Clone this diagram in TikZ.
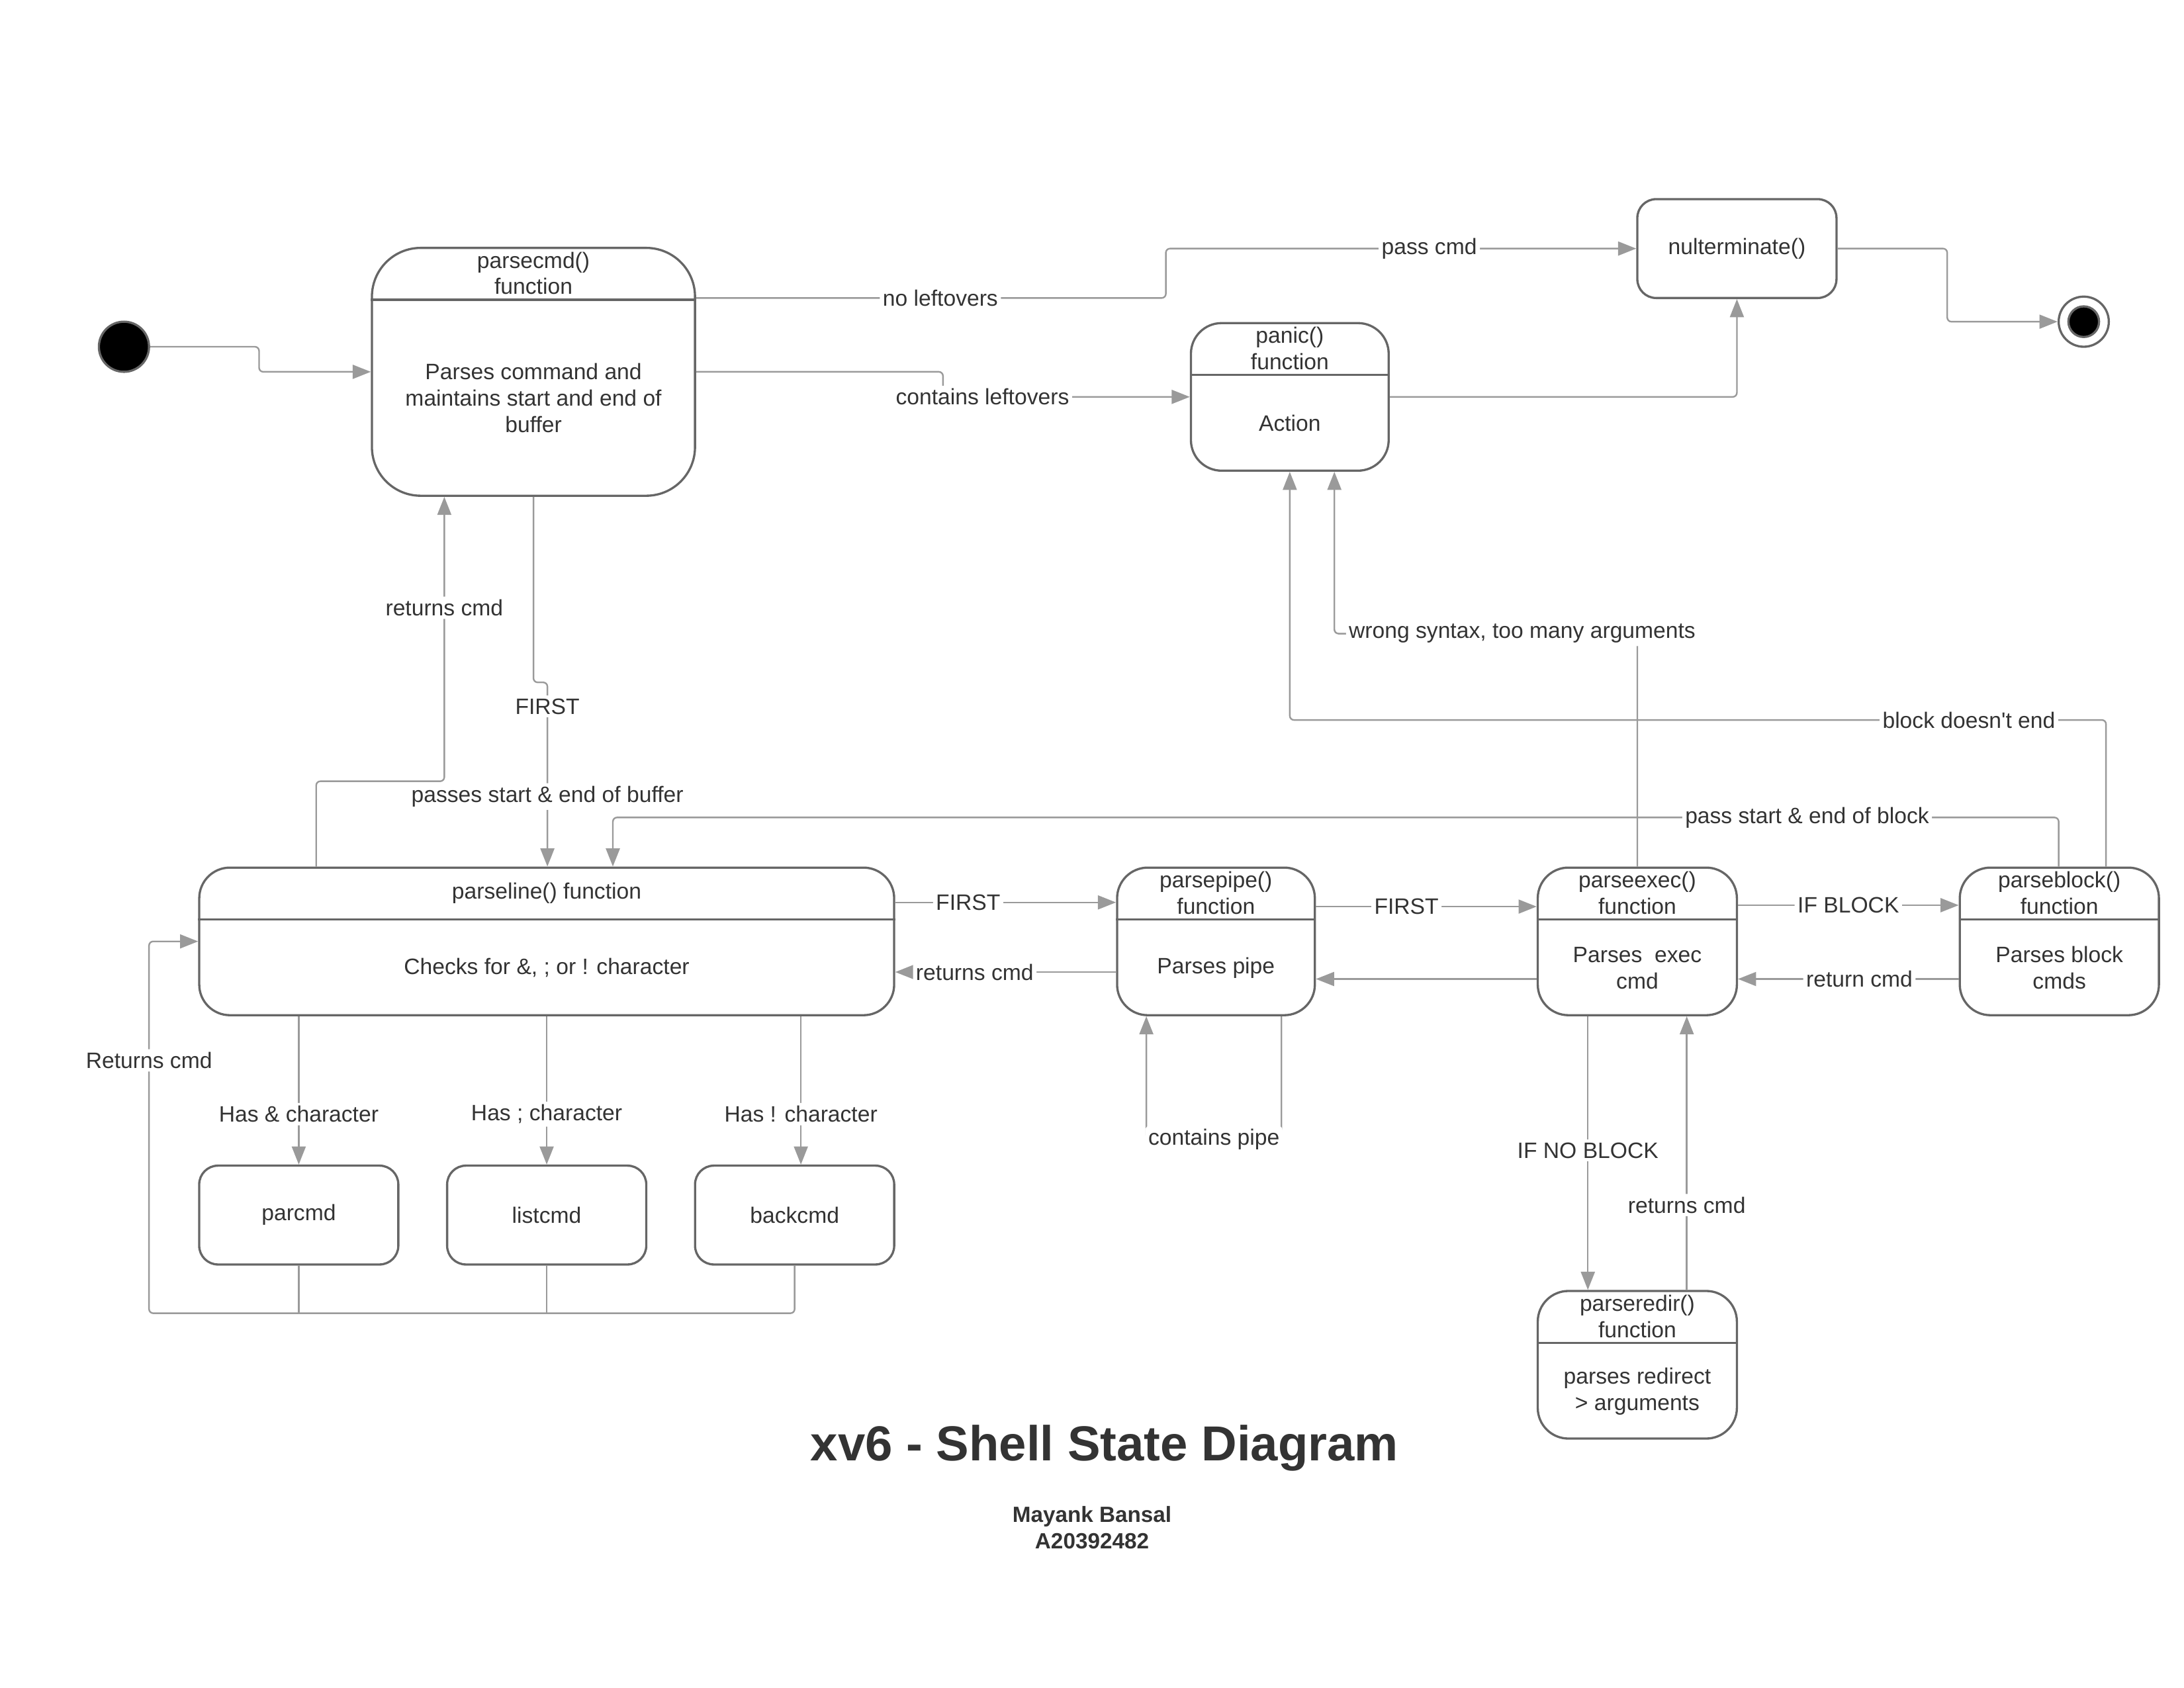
\documentclass[tikz,border=0pt]{standalone}
\usepackage{fontspec}
\setmainfont{Liberation Sans}
\usetikzlibrary{arrows.meta}
\definecolor{bordergray}{HTML}{666666}
\definecolor{linegray}{HTML}{9A9A9A}
\definecolor{txtgray}{HTML}{333333}
\tikzset{
  lblfont/.style={font=\fontsize{9.1}{10.8}\selectfont, text=txtgray},
  fnbox/.style={draw=bordergray, line width=0.9pt, rounded corners=0.44cm, fill=white, inner sep=0pt},
  smallbox/.style={fnbox, rounded corners=0.27cm, minimum width=2.86cm, minimum height=1.42cm, lblfont},
  fntext/.style={lblfont, align=center, inner sep=0pt},
  divider/.style={draw=bordergray, line width=0.9pt},
  flow/.style={draw=linegray, line width=0.65pt, rounded corners=0.06cm, -{Triangle[length=0.26cm,width=0.2cm]}},
  link/.style={draw=linegray, line width=0.65pt, rounded corners=0.06cm},
  lbl/.style={lblfont, fill=white, inner sep=1.2pt},
  initdot/.style={circle, fill=black, draw=bordergray, line width=0.9pt, minimum size=0.72cm, inner sep=0pt},
  finalring/.style={circle, fill=white, draw=bordergray, line width=0.9pt, minimum size=0.72cm, inner sep=0pt},
  finaldot/.style={circle, fill=black, draw=bordergray, line width=0.9pt, minimum size=0.44cm, inner sep=0pt},
}
% state with a name part on top and a body part below
\newcommand{\fnstate}[7][]{%
  \node[fnbox, minimum width=#4, minimum height=#5, #1] (#2) at #3 {};
  \draw[divider] ([yshift=-0.76cm]#2.north west) -- ([yshift=-0.76cm]#2.north east);
  \node[fntext] (#2-t) at ([yshift=-0.38cm]#2.north) {#6};
  \node[fntext] (#2-b) at ([yshift=-0.38cm]#2.center) {#7};
}
\begin{document}
\begin{tikzpicture}[x=0.02cm,y=-0.02cm]
	\useasboundingbox (0,0) rectangle (1568,1212);
	% states
	\node[initdot] (init) at (89,249) {};
	\fnstate[rounded corners=0.7cm]{parsecmd}{(383,267)}{4.64cm}{3.56cm}{parsecmd()\\function}{Parses command and\\maintains start and end of\\buffer}
	\node[smallbox] (nul) at (1247,178.5) {nulterminate()};
	\fnstate{panic}{(926,285)}{2.84cm}{2.12cm}{panic()\\function}{Action}
	\node[finalring] (final) at (1496,231) {};
	\node[finaldot] (final-in) at (final) {};
	\fnstate{parseline}{(392.5,676)}{9.98cm}{2.12cm}{parseline() function}{Checks for \&, ; or ! character}
	\fnstate{parsepipe}{(873,676)}{2.84cm}{2.12cm}{parsepipe()\\function}{Parses pipe}
	\fnstate{parseexec}{(1175.5,676)}{2.86cm}{2.12cm}{parseexec()\\function}{Parses\ \ exec\\cmd}
	\fnstate{parseblock}{(1478.5,676)}{2.86cm}{2.12cm}{parseblock()\\function}{Parses block\\cmds}
	\fnstate{parseredir}{(1175.5,980)}{2.86cm}{2.12cm}{parseredir()\\function}{parses redirect\\> arguments}
	\node[smallbox] (parcmd) at (214.5,872.5) {parcmd};
	\node[smallbox] (listcmd) at (392.5,872.5) {listcmd};
	\node[smallbox] (backcmd) at (570.5,872.5) {backcmd};
	% title
	\node[font=\bfseries\fontsize{20.1}{24}\selectfont, text=txtgray] (title) at (793,1040) {xv6 - Shell State Diagram};
	\node[font=\bfseries\fontsize{9}{10.8}\selectfont, text=txtgray, align=center] (author) at (784,1097) {Mayank Bansal\\A20392482};
	% transitions at the top
	\draw[flow] (init.east) -- (186,249) |- (parsecmd.west);
	\draw[flow] (parsecmd.east |- 0,214) -- node[lbl,pos=0.52]{no leftovers} (837,214) |- node[lbl,pos=0.78]{pass cmd} (nul.west);
	\draw[flow] (parsecmd.east) -- (677,267) |- node[lbl,pos=0.58]{contains leftovers} (panic.west);
	\draw[flow] (panic.east) -| (nul.south);
	\draw[flow] (nul.east) -- (1398,178.5) |- (final.west);
	% between parsecmd and parseline
	\draw[flow] (parsecmd.south) -- (383,490) -- (393,490) -- node[lbl,pos=0.13]{FIRST} node[lbl,pos=0.62]{passes start \& end of buffer} (parseline.north -| 393,0);
	\draw[flow] (parseline.north -| 227,0) |- (319,561) -- node[lbl,pos=0.61]{returns cmd} (parsecmd.south -| 319,0);
	% back to parseline and panic
	\draw[flow] (parseblock.north -| 1478,0) |- node[lbl,pos=0.587]{pass start \& end of block} (440,587) -- (parseline.north -| 440,0);
	\draw[flow] (parseblock.north -| 1512,0) |- node[lbl,pos=0.584]{block doesn\textquotesingle t end} (panic.south |- 0,517) -- (panic.south);
	\draw[flow] (parseexec.north) |- node[lbl,pos=0.69]{wrong syntax, too many arguments} (958,455) -- (panic.south -| 958,0);
	% the middle row
	\draw[flow] (parseline.east |- 0,648) -- node[lbl,pos=0.33]{FIRST} (parsepipe.west |- 0,648);
	\draw[flow] (parsepipe.west |- 0,698) -- node[lbl,pos=0.64]{returns cmd} (parseline.east |- 0,698);
	\draw[flow] (parsepipe.east |- 0,651) -- node[lbl,pos=0.41]{FIRST} (parseexec.west |- 0,651);
	\draw[flow] (parseexec.west |- 0,703) -- (parsepipe.east |- 0,703);
	\draw[flow] (parseexec.east |- 0,650) -- node[lbl,pos=0.5]{IF BLOCK} (parseblock.west |- 0,650);
	\draw[flow] (parseblock.west |- 0,703) -- node[lbl,pos=0.45]{return cmd} (parseexec.east |- 0,703);
	\draw[flow] (parsepipe.south -| 920,0) |- node[lbl,pos=0.75]{contains pipe} (823,818) -- (parsepipe.south -| 823,0);
	\draw[flow] (parseexec.south -| 1140,0) -- node[lbl,pos=0.49]{IF NO BLOCK} (parseredir.north -| 1140,0);
	\draw[flow] (parseredir.north -| 1211,0) -- node[lbl,pos=0.31]{returns cmd} (parseexec.south -| 1211,0);
	% parseline and its three cmds
	\draw[flow] (parseline.south -| parcmd.north) -- node[lbl,pos=0.66]{Has \& character} (parcmd.north);
	\draw[flow] (parseline.south -| listcmd.north) -- node[lbl,pos=0.66]{Has ; character} (listcmd.north);
	\draw[flow] (parseline.south -| 575,0) -- node[lbl,pos=0.66]{Has ! character} (backcmd.north -| 575,0);
	\draw[link] (parcmd.south) -- (parcmd.south |- 0,943);
	\draw[link] (listcmd.south) -- (listcmd.south |- 0,943);
	\draw[flow] (backcmd.south) |- (107,943) -- node[lbl,pos=0.68]{Returns cmd} (107,676) -- (parseline.west);
\end{tikzpicture}
\end{document}
